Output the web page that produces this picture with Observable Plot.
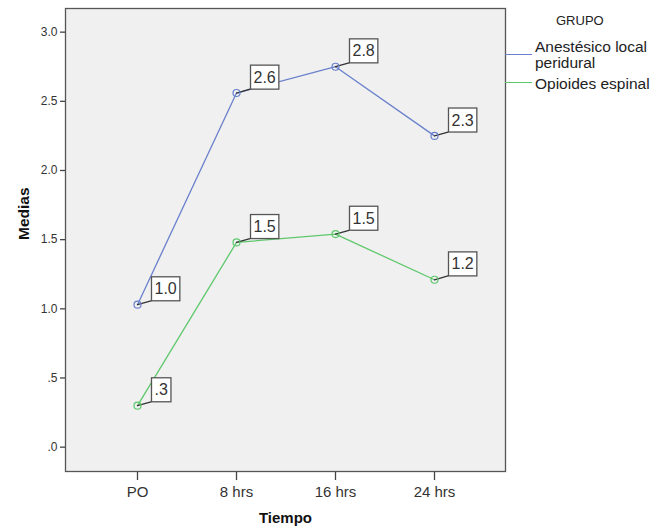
<!DOCTYPE html>
<html>
<head>
<meta charset="utf-8">
<script src="https://cdn.jsdelivr.net/npm/d3@7"></script>
<script src="https://cdn.jsdelivr.net/npm/@observablehq/plot@0.6"></script>
<style>
  html, body { margin: 0; padding: 0; background: #fff; }
  #wrap { position: relative; width: 665px; height: 529px; font-family: "Liberation Sans", Arial, sans-serif; }
  #legend { position: absolute; left: 0; top: 0; width: 665px; height: 120px; pointer-events: none; color: #222; }
  .lg-title { position: absolute; left: 556px; top: 13px; font-size: 13px; }
  .lg-line { position: absolute; left: 505px; width: 27px; height: 0; border-top: 1.3px solid; }
  .lg-text { position: absolute; left: 535px; font-size: 15.5px; line-height: 16px; }
</style>
</head>
<body>
<div id="wrap">
  <div id="chart"></div>
  <div id="legend"></div>
</div>
<script>
const times = ["PO", "8 hrs", "16 hrs", "24 hrs"];
const grupos = ["Anestésico local peridural", "Opioides espinal"];
const grupoLegend = [["Anestésico local", "peridural"], ["Opioides espinal"]];
const colors = ["#6a80cc", "#5fc86c"];
const anestesico = [1.03, 2.56, 2.75, 2.25];
const opioides = [0.30, 1.48, 1.54, 1.21];
const labelsAnestesico = ["1.0", "2.6", "2.8", "2.3"];
const labelsOpioides = [".3", "1.5", "1.5", "1.2"];
const yTicks = [0, 0.5, 1.0, 1.5, 2.0, 2.5, 3.0];
const yTickLabels = [".0", ".5", "1.0", "1.5", "2.0", "2.5", "3.0"];

const data = [];
times.forEach((t, i) => {
  data.push({tiempo: t, grupo: grupos[0], media: anestesico[i], label: labelsAnestesico[i]});
  data.push({tiempo: t, grupo: grupos[1], media: opioides[i], label: labelsOpioides[i]});
});

const font = "Liberation Sans, Arial, sans-serif";

const chart = Plot.plot({
  width: 665,
  height: 529,
  marginLeft: 65,
  marginRight: 160,
  marginTop: 8,
  marginBottom: 58,
  style: {fontFamily: font, background: "#fff", color: "#333"},
  x: {type: "point", domain: times, padding: 0.72},
  y: {domain: [-0.176, 3.171]},
  color: {domain: grupos, range: colors},
  marks: [
    Plot.frame({fill: "#f0f0f0", stroke: null}),
    Plot.axisY({ticks: yTicks, tickFormat: d => yTickLabels[yTicks.indexOf(d)], tickSize: 5, tickPadding: 3, fontSize: 12, label: null, stroke: "#444", strokeWidth: 1.3, fill: "#333"}),
    Plot.axisX({tickSize: 9, tickPadding: 6, fontSize: 15, label: null, stroke: "#444", strokeWidth: 1.3, fill: "#333"}),
    Plot.text(["Medias"], {frameAnchor: "left", dx: -41, rotate: -90, fontSize: 15.5, fontWeight: "bold", fill: "#111"}),
    Plot.text(["Tiempo"], {frameAnchor: "bottom", dy: 51, fontSize: 15, fontWeight: "bold", fill: "#111"}),
    Plot.line(data, {x: "tiempo", y: "media", z: "grupo", stroke: "grupo", strokeWidth: 1.3}),
    Plot.vector(data, {x: "tiempo", y: "media", length: 14, rotate: 74, anchor: "start", stroke: "#333", strokeWidth: 1.3,
      shape: {draw(context, l) { context.moveTo(0, 0); context.lineTo(0, -l); }}}),
    Plot.text(data, {x: "tiempo", y: "media", text: "label", textAnchor: "start", dx: 17, dy: -15.5, fontSize: 16, fill: "#333", className: "vlabel"}),
    Plot.dot(data, {x: "tiempo", y: "media", stroke: "grupo", r: 3.5, strokeWidth: 1.2, fill: "none"}),
    Plot.frame({stroke: "#555", strokeWidth: 1.3})
  ]
});

document.getElementById("chart").appendChild(chart);

// white boxes behind value labels
const svgNS = "http://www.w3.org/2000/svg";
chart.querySelectorAll(".vlabel text, g.vlabel text").forEach(t => {
  const b = t.getBBox();
  const r = document.createElementNS(svgNS, "rect");
  const padX = 3, h = 24;
  r.setAttribute("x", b.x - padX);
  r.setAttribute("y", b.y + b.height / 2 - h / 2);
  r.setAttribute("width", b.width + 2 * padX);
  r.setAttribute("height", h);
  r.setAttribute("fill", "#fff");
  r.setAttribute("stroke", "#555");
  r.setAttribute("stroke-width", "1.3");
  const tr = t.getAttribute("transform");
  if (tr) r.setAttribute("transform", tr);
  t.parentNode.insertBefore(r, t);
});

// legend
const lg = document.getElementById("legend");
const title = document.createElement("div");
title.className = "lg-title";
title.textContent = "GRUPO";
lg.appendChild(title);
const lineYs = [54, 82];
const textTops = [39, 76];
grupos.forEach((g, i) => {
  const l = document.createElement("div");
  l.className = "lg-line";
  l.style.top = lineYs[i] + "px";
  l.style.borderTopColor = colors[i];
  lg.appendChild(l);
  const t = document.createElement("div");
  t.className = "lg-text";
  t.style.top = textTops[i] + "px";
  t.innerHTML = grupoLegend[i].join("<br>");
  lg.appendChild(t);
});
</script>
</body>
</html>
